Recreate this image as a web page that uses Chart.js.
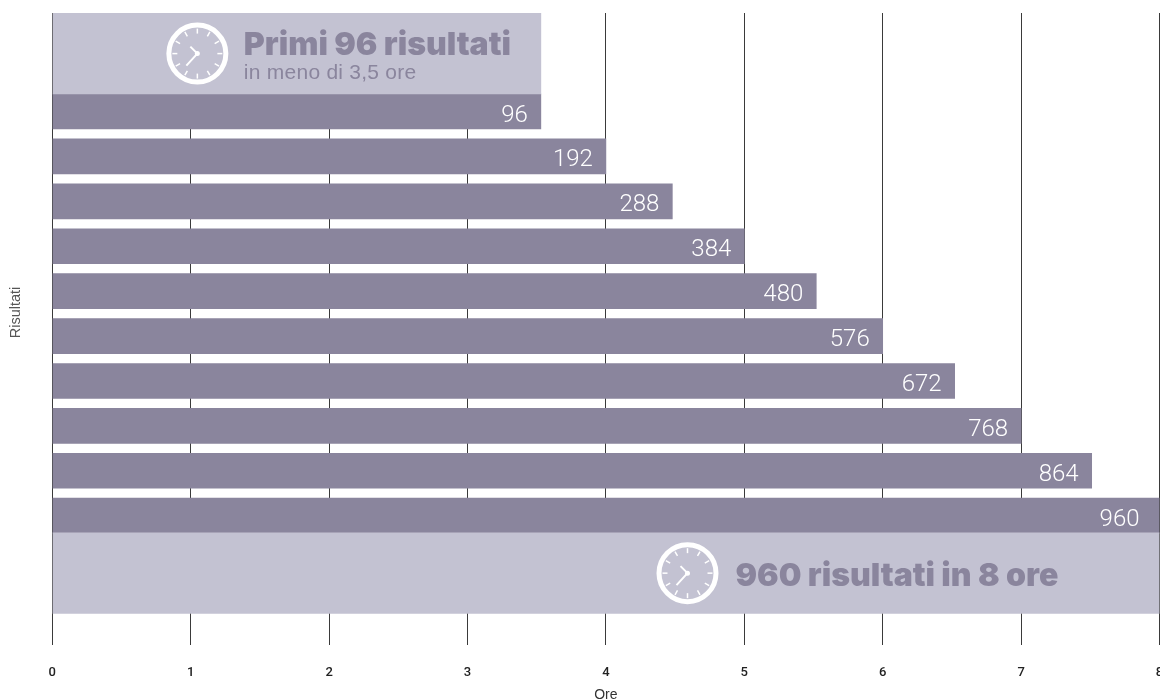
<!DOCTYPE html>
<html>
<head>
<meta charset="utf-8">
<script src="https://cdn.jsdelivr.net/npm/chart.js@4"></script>
<style>
  html, body { margin: 0; padding: 0; background: #fff; overflow: hidden; }
  #wrap { width: 1160px; height: 700px; overflow: hidden; }
  #wrap div { width: 1180px; height: 700px; position: relative; }
</style>
</head>
<body>
<div id="wrap"><div><canvas id="resultsChart"></canvas></div></div>
<script>
// values
const results = [96, 192, 288, 384, 480, 576, 672, 768, 864, 960];
const hours = [3.53, 4, 4.48, 5, 5.52, 6, 6.52, 7, 7.51, 8];
const hourTicks = [0, 1, 2, 3, 4, 5, 6, 7, 8];
const bannerHours = [3.53, 8];
const bannerTitles = ['Primi 96 risultati', '960 risultati in 8 ore'];
const bannerSubtitle = 'in meno di 3,5 ore';
const yTitle = 'Risultati';

const barColor = '#8a859d';
const bannerColor = '#c3c2d2';
const rows = results.map((r, i) => i + 1);
const bannerRows = [-0.29, 11.28];

function drawClock(ctx, cx, cy) {
    ctx.save();
    ctx.strokeStyle = '#fff';
    ctx.fillStyle = '#fff';
    ctx.lineWidth = 5;
    ctx.beginPath();
    ctx.arc(cx, cy, 28.5, 0, Math.PI * 2);
    ctx.stroke();
    ctx.lineWidth = 1.5;
    for (let i = 0; i < 12; i++) {
        const a = i * Math.PI / 6;
        ctx.beginPath();
        ctx.moveTo(cx + Math.cos(a) * 20, cy + Math.sin(a) * 20);
        ctx.lineTo(cx + Math.cos(a) * 25, cy + Math.sin(a) * 25);
        ctx.stroke();
    }
    ctx.lineWidth = 2;
    ctx.beginPath();
    ctx.moveTo(cx, cy);
    ctx.lineTo(cx - 7, cy - 7);
    ctx.moveTo(cx, cy);
    ctx.lineTo(cx - 11, cy + 12);
    ctx.stroke();
    ctx.beginPath();
    ctx.arc(cx, cy, 2.5, 0, Math.PI * 2);
    ctx.fill();
    ctx.restore();
}

// value labels, banner texts and clocks
const overlay = {
    id: 'overlay',
    afterDatasetsDraw(chart) {
        const ctx = chart.ctx;
        const bars = chart.getDatasetMeta(1).data;
        const banners = chart.getDatasetMeta(0).data;
        ctx.save();
        ctx.fillStyle = '#fff';
        ctx.font = '300 24px Roboto';
        ctx.textAlign = 'right';
        ctx.textBaseline = 'alphabetic';
        bars.forEach((bar, i) => {
            ctx.fillText(results[i], Math.min(bar.x - 13, chart.chartArea.right - 20), bar.y + 10);
        });

        const top = banners[0], bottom = banners[1];
        drawClock(ctx, top.x - 343.5, top.y);
        drawClock(ctx, bottom.x - 472, bottom.y);

        ctx.fillStyle = barColor;
        ctx.textAlign = 'left';
        ctx.font = '900 32px Inter';
        ctx.fillText(bannerTitles[0], top.x - 297, top.y + 1.5);
        ctx.fillText(bannerTitles[1], bottom.x - 424, bottom.y + 13);
        ctx.font = '21px "Liberation Sans"';
        ctx.letterSpacing = '0.25px';
        ctx.fillText(bannerSubtitle, top.x - 297, top.y + 25.5);
        ctx.restore();

        // y title sits above the middle of the plot in the original
        ctx.save();
        ctx.translate(19.5, 312.5);
        ctx.rotate(-Math.PI / 2);
        ctx.fillStyle = '#555';
        ctx.font = '14.5px "Liberation Sans"';
        ctx.textAlign = 'center';
        ctx.textBaseline = 'alphabetic';
        ctx.fillText(yTitle, 0, 0);
        ctx.restore();
    }
};

new Chart(document.getElementById('resultsChart'), {
    type: 'bar',
    data: {
        datasets: [
            {
                label: 'Banner',
                data: bannerHours.map((h, i) => ({ x: h, y: bannerRows[i] })),
                backgroundColor: bannerColor,
                barThickness: 80.5,
                grouped: false
            },
            {
                label: 'Risultati',
                data: hours.map((h, i) => ({ x: h, y: rows[i] })),
                backgroundColor: barColor,
                barThickness: 35,
                grouped: false
            }
        ]
    },
    plugins: [overlay],
    options: {
        indexAxis: 'y',
        responsive: true,
        maintainAspectRatio: false,
        animation: false,
        layout: { padding: { top: 13, left: 0, right: 20.5, bottom: 0 } },
        plugins: {
            legend: { display: false },
            tooltip: { enabled: false }
        },
        scales: {
            x: {
                type: 'linear',
                min: 0,
                max: 8,
                afterBuildTicks(scale) {
                    scale.ticks = hourTicks.map(v => ({ value: v }));
                },
                afterFit(scale) {
                    scale.paddingLeft = 0;
                    scale.paddingRight = 0;
                    scale.height = 55;
                },
                grid: { color: '#3a3a3a', lineWidth: 1, drawTicks: false },
                border: { display: false },
                ticks: {
                    color: '#222',
                    padding: 20,
                    maxRotation: 0,
                    font: { family: 'Roboto', size: 13, weight: '500' }
                },
                title: {
                    display: true,
                    text: 'Ore',
                    color: '#333',
                    font: { family: 'Liberation Sans', size: 14 },
                    padding: { top: 0, bottom: -4 }
                }
            },
            y: {
                type: 'linear',
                reverse: true,
                offset: false,
                min: -1.194,
                max: 12.88,
                afterFit(scale) {
                    scale.width = 52.3;
                },
                grid: { display: false },
                border: { display: false },
                ticks: { display: false },
                title: { display: false }
            }
        }
    }
});
</script>
</body>
</html>
